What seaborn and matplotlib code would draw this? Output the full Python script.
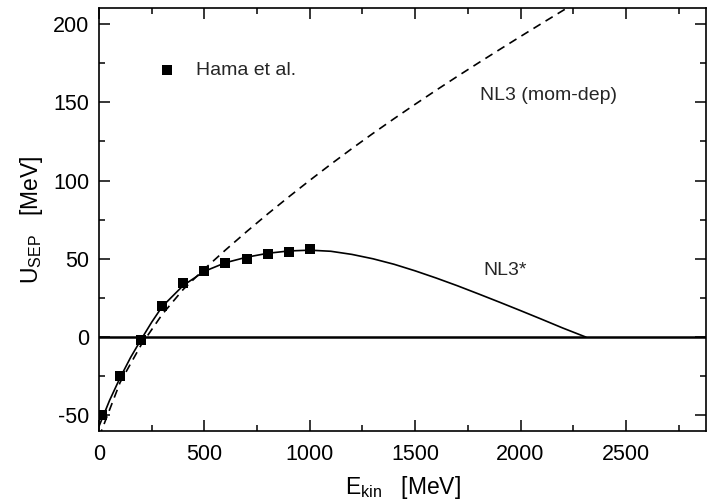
import numpy as np
import pandas as pd
import matplotlib
matplotlib.use("Agg")
import matplotlib.pyplot as plt
from matplotlib.ticker import MultipleLocator
import seaborn as sns

# --- data ---
hama_e = [15, 100, 200, 300, 400, 500, 600, 700, 800, 900, 1000]
hama_u = [-50, -25, -2, 20, 34.5, 42.5, 47, 50, 53, 54.5, 56]

nl3star_e = [0, 50, 100, 150, 200, 250, 300, 400, 500, 600, 700, 800, 900,
             1000, 1100, 1200, 1300, 1400, 1500, 1600, 1700, 1800, 1900,
             2000, 2100, 2200, 2310]
nl3star_u = [-57, -40.5, -26, -13, -1.5, 9.5, 19.5, 33, 42, 47.5, 51, 53.5,
             55, 55.5, 54.8, 52.8, 50, 46.5, 42.3, 37.7, 32.8, 27.6, 22.3,
             16.9, 11.4, 5.8, 0]

nl3mom_e = [0, 100, 200, 300, 400, 500, 600, 700, 800, 900, 1000, 1100,
            1200, 1300, 1400, 1500, 1600, 1700, 1800, 1900, 2000, 2100,
            2200, 2300]
nl3mom_u = [-64, -29, -5, 14.5, 30.5, 43.5, 55.6, 67.3, 78.6, 89.5, 100.1,
            110.4, 120.4, 130.1, 139.5, 148.7, 157.7, 166.5, 175.1, 183.6,
            192, 200.3, 208.5, 216.6]

xticks = [0, 500, 1000, 1500, 2000, 2500]
yticks = [-50, 0, 50, 100, 150, 200]

sns.set_theme(style="ticks")
plt.rcParams['font.family'] = ['Liberation Sans', 'DejaVu Sans']
plt.rcParams['mathtext.fontset'] = 'custom'
plt.rcParams['mathtext.rm'] = 'Liberation Sans'
plt.rcParams['mathtext.it'] = 'Liberation Sans'
plt.rcParams['axes.unicode_minus'] = False

fig = plt.figure(figsize=(7.07, 5.03), dpi=100)
ax = fig.add_axes([99/707, 1 - 431/503, (706 - 99)/707, (431 - 8.3)/503])

df_star = pd.DataFrame({"E": nl3star_e, "U": nl3star_u})
df_mom = pd.DataFrame({"E": nl3mom_e, "U": nl3mom_u})
df_hama = pd.DataFrame({"E": hama_e, "U": hama_u})

ax.axhline(0, color="black", lw=1.8, zorder=1)
sns.lineplot(data=df_star, x="E", y="U", ax=ax, color="black", lw=1.2,
             legend=False, sort=False, estimator=None)
sns.lineplot(data=df_mom, x="E", y="U", ax=ax, color="black", lw=1.2,
             legend=False, sort=False, estimator=None)
ax.lines[-1].set_dashes([5, 3.5])
sns.scatterplot(data=df_hama, x="E", y="U", ax=ax, marker="s", s=55,
                color="black", linewidth=0, label="Hama et al.", zorder=5)

ax.set_xlim(0, 2880)
ax.set_ylim(-60, 210)
ax.set_xticks(xticks)
ax.set_yticks(yticks)
ax.xaxis.set_minor_locator(MultipleLocator(250))
ax.yaxis.set_minor_locator(MultipleLocator(25))
ax.tick_params(which="both", direction="in", top=True, right=True,
               labelsize=15.5, width=1.1, color="black", labelcolor="black")
ax.tick_params(which="major", length=8, pad=7)
ax.tick_params(axis="x", which="major", pad=9)
ax.tick_params(which="minor", length=4.5)
for s in ax.spines.values():
    s.set_linewidth(1.2)
    s.set_color("black")

ax.set_xlabel(r"E$_{\mathrm{kin}}$   [MeV]", fontsize=16.5, labelpad=7,
              color="black")
ax.set_ylabel(r"U$_{\mathrm{SEP}}$   [MeV]", fontsize=16.5, labelpad=6,
              color="black")

ax.legend(loc="center left", bbox_to_anchor=(0.083, 0.853), frameon=False,
          fontsize=14, handlelength=1.0, handletextpad=1.0, borderaxespad=0,
          markerscale=1.0)

ax.text(1809, 154, "NL3 (mom-dep)", fontsize=14, va="center", ha="left")
ax.text(1823, 42.5, "NL3*", fontsize=14, va="center", ha="left")

fig.savefig("out.png", dpi=100)
